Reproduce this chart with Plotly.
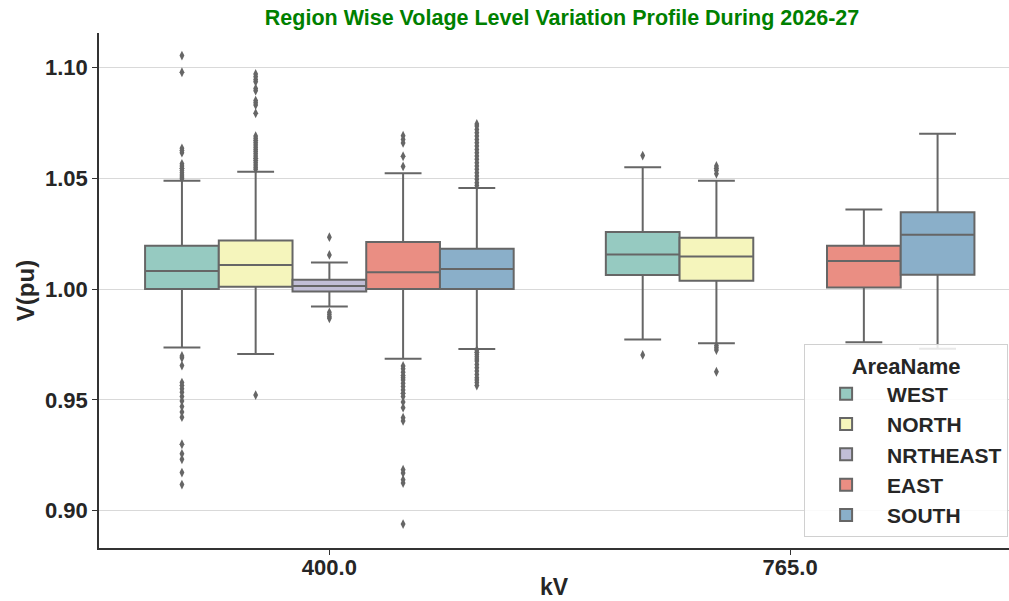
import plotly.graph_objects as go

# ---------------- data ----------------
KV_CATEGORIES = ["400.0", "765.0"]
REGIONS = ["WEST", "NORTH", "NRTHEAST", "EAST", "SOUTH"]
COLORS = ["#96cac1", "#f5f5bc", "#c1bed6", "#ea8e83", "#8aafc9"]

# box statistics per region (order of REGIONS) for 400 kV
Q1_400 = [1.0000, 1.0010, 0.9989, 1.0000, 1.0000]
MEDIAN_400 = [1.0081, 1.0109, 1.0014, 1.0076, 1.0090]
Q3_400 = [1.0195, 1.0219, 1.0042, 1.0212, 1.0182]
LOWER_400 = [0.9736, 0.9707, 0.9921, 0.9686, 0.9730]
UPPER_400 = [1.0489, 1.0529, 1.0120, 1.0522, 1.0456]

# box statistics per region for 765 kV (None = no buses)
Q1_765 = [1.0063, 1.0037, None, 1.0007, 1.0064]
MEDIAN_765 = [1.0156, 1.0147, None, 1.0127, 1.0245]
Q3_765 = [1.0257, 1.0231, None, 1.0195, 1.0347]
LOWER_765 = [0.9772, 0.9756, None, 0.9760, 0.9731]
UPPER_765 = [1.0549, 1.0489, None, 1.0359, 1.0701]

# outliers
WEST_OUT_400 = [1.1053, 1.0978, 1.0635, 1.0625, 1.0615, 1.0565, 1.0555, 1.0545,
                1.0535, 1.0525, 1.0515, 1.0505, 1.0498,
                0.9698, 0.9690, 0.9655, 0.9578, 0.9565, 0.9550, 0.9535, 0.9515,
                0.9495, 0.9470, 0.9445, 0.9422, 0.9300, 0.9257, 0.9232, 0.9172, 0.9118]
NORTH_OUT_400 = [1.0970, 1.0958, 1.0945, 1.0935, 1.0905, 1.0895, 1.0850, 1.0840,
                 1.0830, 1.0793, 1.0690, 1.0680, 1.0670, 1.0660, 1.0650, 1.0640,
                 1.0630, 1.0620, 1.0610, 1.0600, 1.0590, 1.0580, 1.0570, 1.0560,
                 1.0550, 1.0540, 0.9522]
NRTHEAST_OUT_400 = [1.0234, 1.0154, 0.9895, 0.9885, 0.9875, 0.9868]
EAST_OUT_400 = [1.0692, 1.0675, 1.0659, 1.0599, 1.0553,
                0.9653, 0.9640, 0.9625, 0.9610, 0.9600, 0.9590, 0.9575, 0.9560,
                0.9545, 0.9530, 0.9515, 0.9490, 0.9465, 0.9420, 0.9405, 0.9185,
                0.9170, 0.9140, 0.9125, 0.8940]
SOUTH_OUT_400 = [1.0745, 1.0735, 1.0720, 1.0705, 1.0690, 1.0675, 1.0660, 1.0645,
                 1.0630, 1.0615, 1.0600, 1.0585, 1.0570, 1.0555, 1.0540, 1.0525,
                 1.0510, 1.0495, 1.0480, 1.0467,
                 0.9725, 0.9715, 0.9705, 0.9695, 0.9685, 0.9675, 0.9660, 0.9645,
                 0.9630, 0.9615, 0.9600, 0.9590, 0.9578, 0.9565]

WEST_OUT_765 = [1.0602, 0.9703]
NORTH_OUT_765 = [1.0555, 1.0545, 1.0535, 1.0520, 0.9745, 0.9735, 0.9725, 0.9627]
NRTHEAST_OUT_765 = []
EAST_OUT_765 = []
SOUTH_OUT_765 = []

OUT_400 = [WEST_OUT_400, NORTH_OUT_400, NRTHEAST_OUT_400, EAST_OUT_400, SOUTH_OUT_400]
OUT_765 = [WEST_OUT_765, NORTH_OUT_765, NRTHEAST_OUT_765, EAST_OUT_765, SOUTH_OUT_765]

Y_TICKS = [0.90, 0.95, 1.00, 1.05, 1.10]

# ---------------- figure ----------------
FONT = "Liberation Sans, Arial, sans-serif"
GRAY = "#666666"
TXT = "#262626"

fig = go.Figure()
stats_400 = [Q1_400, MEDIAN_400, Q3_400, LOWER_400, UPPER_400]
stats_765 = [Q1_765, MEDIAN_765, Q3_765, LOWER_765, UPPER_765]

for i, region in enumerate(REGIONS):
    xs, q1, med, q3, lf, uf, pts = [], [], [], [], [], [], []
    for cat, stats, outs in ((KV_CATEGORIES[0], stats_400, OUT_400),
                             (KV_CATEGORIES[1], stats_765, OUT_765)):
        if stats[0][i] is None:
            continue
        xs.append(cat)
        q1.append(stats[0][i])
        med.append(stats[1][i])
        q3.append(stats[2][i])
        lf.append(stats[3][i])
        uf.append(stats[4][i])
        pts.append(outs[i])
    fig.add_trace(go.Box(
        name="<b>" + region + "</b>",
        x=xs, y=pts,
        q1=q1, median=med, q3=q3, lowerfence=lf, upperfence=uf,
        boxpoints="outliers", jitter=0, pointpos=0,
        fillcolor=COLORS[i],
        line=dict(color=GRAY, width=2),
        whiskerwidth=0.5,
        marker=dict(symbol="diamond-tall", size=7, color=GRAY, line=dict(width=0)),
        hoverinfo="skip",
    ))

fig.update_layout(
    width=1009, height=601,
    margin=dict(l=99, r=0, t=33, b=53, autoexpand=False),
    paper_bgcolor="white", plot_bgcolor="white",
    font=dict(family=FONT, color=TXT),
    boxmode="group", boxgap=0.2, boxgroupgap=0.0,
    title=dict(text="<b>Region Wise Volage Level Variation Profile During 2026-27</b>",
               font=dict(family=FONT, size=21.5, color="#008000"),
               x=0.557, xref="container", xanchor="center",
               y=1 - 17 / 601, yref="container", yanchor="middle"),
    xaxis=dict(
        type="category", categoryorder="array", categoryarray=KV_CATEGORIES,
        range=[-0.5, 1.475], automargin=False,
        showgrid=False, zeroline=False,
        showline=True, linecolor="#333333", linewidth=1.5,
        ticks="outside", ticklen=5, tickcolor="#333333",
        ticklabelstandoff=-6,
        tickfont=dict(size=22, weight="bold", color=TXT),
        title=dict(text="<b>kV</b>", font=dict(size=23, color=TXT), standoff=0),
    ),
    yaxis=dict(
        range=[0.8832, 1.1155], automargin=False,
        tickvals=Y_TICKS, tickformat=".2f",
        showgrid=True, gridcolor="#d9d9d9", gridwidth=1,
        zeroline=False,
        showline=True, linecolor="#333333", linewidth=1.5, mirror=True,
        ticks="outside", ticklen=5, tickcolor="#333333",
        tickfont=dict(size=22, weight="bold", color=TXT),
        title=dict(text="<b>V(pu)</b>", font=dict(size=24, color=TXT), standoff=4),
    ),
    legend=dict(
        title=dict(text="<b>AreaName</b>", side="top center",
                   font=dict(size=22, color=TXT)),
        font=dict(size=21, color=TXT),
        x=0.999, xanchor="right", y=0.0214, yanchor="bottom",
        bgcolor="rgba(255,255,255,0.85)", bordercolor="#d0d0d0", borderwidth=1,
        itemwidth=72, traceorder="normal",
    ),
)

fig.write_html("out.html", config={"displayModeBar": False},
               post_script="document.body.style.margin='0';")
